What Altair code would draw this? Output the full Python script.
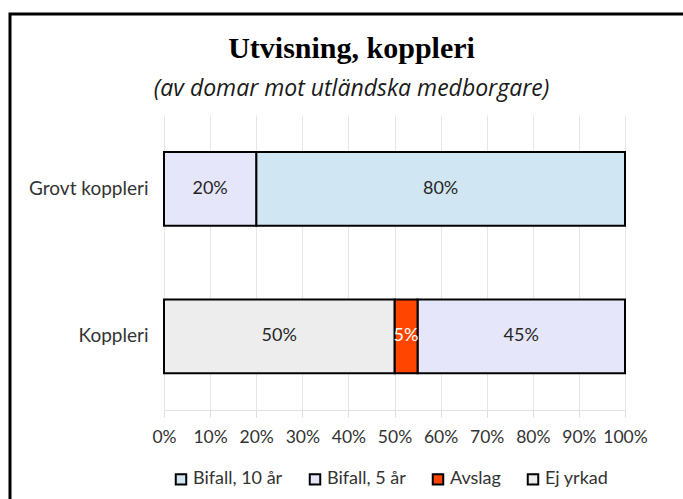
import altair as alt
import pandas as pd

# Chart data: share of judgements (in percent) per category and outcome
categories = ["Grovt koppleri", "Koppleri"]
series = ["Bifall, 10 år", "Bifall, 5 år", "Avslag", "Ej yrkad"]
colors = ["#D0E6F3", "#E6E6FA", "#FF4500", "#EDEDED"]
bifall_10 = [80, 0]
bifall_5 = [20, 45]
avslag = [0, 5]
ej_yrkad = [0, 50]
tick_values = [0, 10, 20, 30, 40, 50, 60, 70, 80, 90, 100]
# Left-to-right stacking order inside each bar
stack_order = ["Ej yrkad", "Avslag", "Bifall, 5 år", "Bifall, 10 år"]
label_colors = {"Avslag": "#FFFFFF"}

rows = []
for name, vals in zip(series, [bifall_10, bifall_5, avslag, ej_yrkad]):
    for cat, v in zip(categories, vals):
        if v > 0:
            rows.append({
                "kategori": cat,
                "serie": name,
                "andel": v,
                "ordning": stack_order.index(name),
                "textfarg": label_colors.get(name, "#262626"),
            })
df = pd.DataFrame(rows)

FONT = "Lato"
TEXT = "#333333"

y_enc = alt.Y(
    "kategori:N",
    sort=categories,
    title=None,
    scale=alt.Scale(paddingInner=0.5, paddingOuter=0.25),
    axis=alt.Axis(ticks=False, domain=False, labelPadding=16, labelFontSize=19,
                  labelFont=FONT, labelColor=TEXT),
)

base = (
    alt.Chart(df)
    .transform_stack(
        stack="andel",
        groupby=["kategori"],
        as_=["x0", "x1"],
        sort=[alt.SortField("ordning", order="ascending")],
    )
    .transform_calculate(mid="(datum.x0 + datum.x1) / 2")
)

bars = base.mark_bar(stroke="black", strokeWidth=2).encode(
    x=alt.X(
        "x0:Q",
        title=None,
        scale=alt.Scale(domain=[0, 100], nice=False),
        axis=alt.Axis(
            values=tick_values,
            labelExpr="datum.value + '%'",
            labelOverlap=False,
            labelFlush=False,
            domain=True,
            domainColor="#E3E3E3",
            grid=True,
            gridColor="#E6E6E6",
            tickColor="#DDDDDD",
            tickSize=7,
            labelPadding=11,
            labelFontSize=17.5,
            labelFont=FONT,
            labelColor=TEXT,
        ),
    ),
    x2="x1:Q",
    y=y_enc,
    color=alt.Color(
        "serie:N",
        scale=alt.Scale(domain=series, range=colors),
        legend=alt.Legend(
            title=None,
            orient="none",
            legendX=8,
            legendY=355,
            direction="horizontal",
            symbolType="square",
            symbolSize=110,
            symbolStrokeColor="black",
            symbolStrokeWidth=2,
            symbolOpacity=1,
            labelFontSize=18,
            labelFont=FONT,
            labelColor=TEXT,
            columnPadding=22,
            labelOffset=3,
        ),
    ),
)

labels = base.mark_text(fontSize=18, font=FONT).encode(
    x=alt.X("mid:Q"),
    y=alt.Y("kategori:N", sort=categories),
    text=alt.Text("label:N"),
    color=alt.Color("textfarg:N", scale=None),
).transform_calculate(label="datum.andel + '%'")

# Outer frame drawn around the whole figure
frame = alt.Chart(pd.DataFrame({"f": [0]})).mark_rect(
    filled=False, stroke="black", strokeWidth=3
).encode(
    x=alt.value(-154),
    x2=alt.value(620),
    y=alt.value(-101),
    y2=alt.value(500),
)

chart = (
    alt.layer(bars, labels, frame)
    .properties(
        width=461,
        height=295,
        padding={"left": 164, "top": 115, "right": 58, "bottom": 89},
        autosize=alt.AutoSizeParams(type="none"),
        title=alt.TitleParams(
            text="Utvisning, koppleri",
            subtitle="(av domar mot utländska medborgare)",
            font="Liberation Serif",
            fontSize=30,
            fontWeight="bold",
            color="black",
            subtitleFont="Open Sans",
            subtitleFontStyle="italic",
            subtitleFontSize=23,
            subtitleColor="#1a1a1a",
            subtitlePadding=14,
            anchor="middle",
            dx=-43,
            offset=-88,
        ),
    )
    .configure_view(stroke=None)
)

chart.save("out.html", embed_options={"renderer": "svg", "actions": False})
